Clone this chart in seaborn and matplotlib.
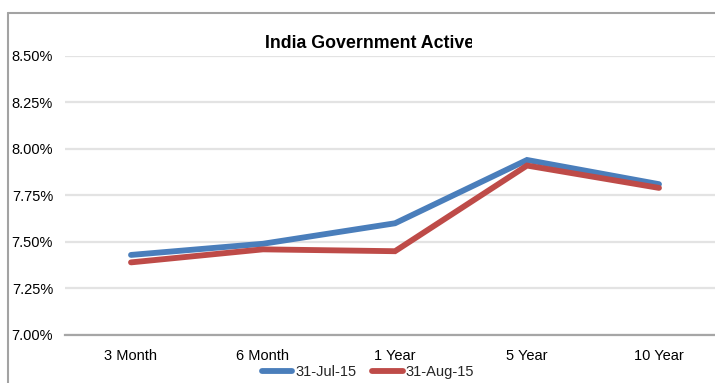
import matplotlib
matplotlib.use("Agg")
import matplotlib.pyplot as plt
from matplotlib.lines import Line2D
from matplotlib.patches import Rectangle
from matplotlib.ticker import FuncFormatter
import seaborn as sns
import pandas as pd

# Yield curve data (percent)
tenors = ["3 Month", "6 Month", "1 Year", "5 Year", "10 Year"]
yields_jul = [7.43, 7.49, 7.60, 7.94, 7.81]
yields_aug = [7.39, 7.46, 7.45, 7.91, 7.79]
series_names = ["31-Jul-15", "31-Aug-15"]
y_ticks = [7.00, 7.25, 7.50, 7.75, 8.00, 8.25, 8.50]
title_text = "India Government Active"

colors = {"31-Jul-15": "#4A7EBB", "31-Aug-15": "#BE4B48"}

df = pd.DataFrame({
    "tenor": tenors * 2,
    "pos": list(range(len(tenors))) * 2,
    "yield": yields_jul + yields_aug,
    "series": [series_names[0]] * len(tenors) + [series_names[1]] * len(tenors),
})

sns.set_theme(style="white")
plt.rcParams["font.family"] = ["Liberation Sans", "DejaVu Sans"]

W, H = 715, 383
fig = plt.figure(figsize=(W / 100, H / 100), dpi=100)
ax = fig.add_axes([65 / W, (H - 335) / H, 660 / W, (335 - 55.7) / H])

sns.lineplot(data=df, x="pos", y="yield", hue="series", palette=colors,
             hue_order=series_names, linewidth=4.2, ax=ax, legend=False,
             solid_capstyle="round", solid_joinstyle="miter")

ax.set_xlim(-0.5, len(tenors) - 0.5)
ax.set_ylim(7.0, 8.5)
ax.set_xticks(range(len(tenors)))
ax.set_xticklabels(tenors)
ax.set_yticks(y_ticks)
ax.yaxis.set_major_formatter(FuncFormatter(lambda v, p: f"{v:.2f}%"))
ax.set_xlabel("")
ax.set_ylabel("")
ax.tick_params(axis="both", length=0, labelsize=10.5, colors="#000000")
ax.tick_params(axis="y", pad=8.6)
ax.tick_params(axis="x", pad=10)

ax.grid(axis="y", color="#e3e3e3", linewidth=1.6)
ax.grid(axis="x", visible=False)
for side in ["top", "right", "left"]:
    ax.spines[side].set_visible(False)
ax.spines["bottom"].set_color("#a6a6a6")
ax.spines["bottom"].set_linewidth(1.6)
ax.set_axisbelow(True)

# Legend below the category axis
handles = [Line2D([0], [0], color=colors[s], linewidth=4.2, solid_capstyle="round")
           for s in series_names]
fig.legend(handles, series_names, loc="center", bbox_to_anchor=(368 / W, 1 - 372 / H),
           ncol=2, frameon=False, fontsize=10.5, handlelength=2.1,
           handletextpad=0.2, columnspacing=1.1, borderaxespad=0, borderpad=0)

# Title clipped by its text box
t = fig.text(265 / W, 1 - 43 / H, title_text, ha="left", va="center",
             fontsize=12.8, fontweight="bold", color="#000000")
clip = Rectangle((0, 0), 472 / W, 1, transform=fig.transFigure, visible=False)
fig.add_artist(clip)
t.set_clip_path(clip)

# Chart frame edges
fig.add_artist(Line2D([8.3 / W, 1.0], [1 - 12.7 / H, 1 - 12.7 / H],
                      transform=fig.transFigure, color="#a3a3a3", linewidth=1.5))
fig.add_artist(Line2D([8.3 / W, 8.3 / W], [0.0, 1 - 12.7 / H],
                      transform=fig.transFigure, color="#a3a3a3", linewidth=1.5))

fig.savefig("out.png", dpi=100, facecolor="white")
